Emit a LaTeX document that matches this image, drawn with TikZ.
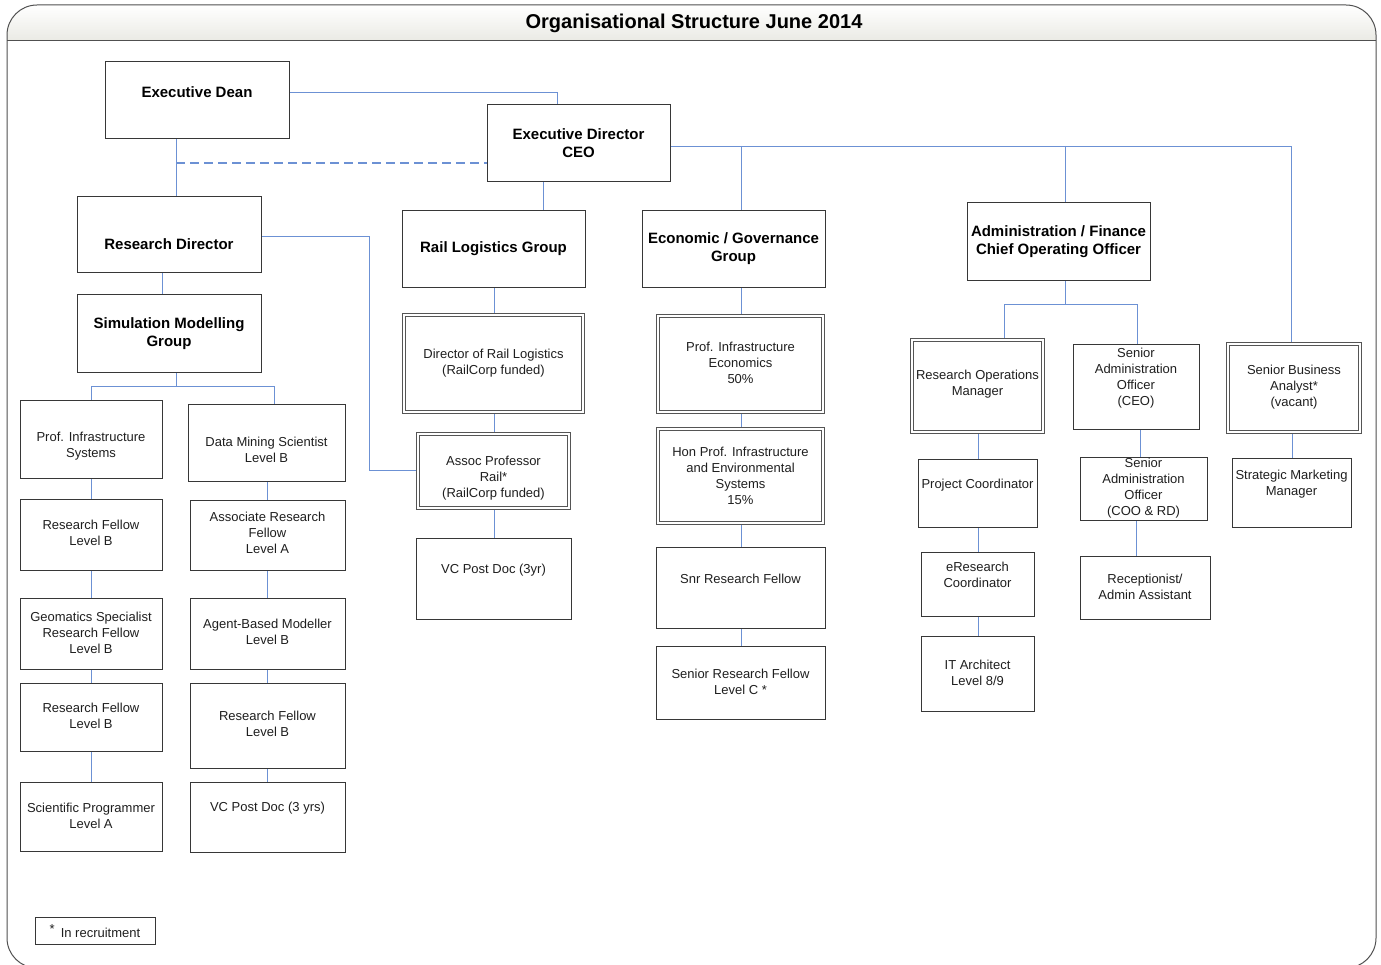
\documentclass[tikz,border=0pt]{standalone}
\usepackage{fontspec}
\setmainfont{Liberation Sans}
\usetikzlibrary{calc,backgrounds}
\definecolor{conncol}{RGB}{108,145,212}
\definecolor{boxcol}{RGB}{55,55,55}
\definecolor{framecol}{RGB}{80,80,80}
\definecolor{bandcol}{RGB}{234,234,228}
\tikzset{
 box/.style={draw=boxcol, line width=0.8pt, fill=white, inner sep=0pt, outer sep=0pt},
 dbox/.style={draw=boxcol!85, line width=0.7pt, double=white, double distance=2.6pt, fill=white, inner sep=0pt, outer sep=0pt},
 txt/.style={align=center, font=\fontsize{13}{16}\selectfont, inner sep=0pt, text=black!88},
 btxt/.style={align=center, font=\fontsize{15}{18}\selectfont\bfseries, inner sep=0pt, text=black, yshift=-2pt},
 conn/.style={draw=conncol, line width=0.9pt},
}
% #1 box style, #2 text style, #3 name, #4 x1, #5 y1, #6 x2, #7 y2, #8 text y, #9 text
\newcommand\bx[9]{%
  \node[#1, minimum width={(#6-#4)*1pt}, minimum height={(#7-#5)*1pt}] (#3) at ({(#4+#6)/2},{(#5+#7)/2}) {};
  \node[#2] (#3-t) at ({(#4+#6)/2},#8) {#9};
}
\begin{document}
\begin{tikzpicture}[x=1pt,y=-1pt]
\useasboundingbox (0,0) rectangle (1381,965);
\begin{scope}
\clip (0,0) rectangle (1381,965);
\begin{scope}
\clip[rounded corners=30pt] (7,5) rectangle (1376,968);
\shade[top color=white, bottom color=bandcol] (7,5) rectangle (1376,41);
\end{scope}
\draw[framecol, line width=1pt, rounded corners=30pt] (7,5) rectangle (1376,968);
\draw[framecol, line width=1pt] (7,41) -- (1376,41);
\end{scope}
\node[font=\fontsize{20}{24}\selectfont\bfseries, inner sep=0pt] (title) at (694,23.5) {Organisational Structure June 2014};

% top level
\bx{box}{btxt}{dean}{105}{61}{289}{138}{90}{Executive Dean}
\bx{box}{btxt}{edir}{487}{104}{670}{181}{141}{Executive Director\\CEO}
\bx{box}{btxt}{rdir}{77}{196}{261}{272}{242}{Research Director}
\bx{box}{btxt}{sim}{77}{294}{261}{372}{332}{Simulation Modelling\\Group}
\bx{box}{btxt}{rail}{402}{210}{585}{287}{247}{Rail Logistics Group}
\bx{box}{btxt}{econ}{642}{210}{825}{287}{247}{Economic / Governance\\Group}
\bx{box}{btxt}{admin}{967}{202}{1150}{280}{240}{Administration / Finance\\Chief Operating Officer}

% simulation modelling columns
\bx{box}{txt}{pis}{20}{400}{162}{478}{446}{Prof. Infrastructure\\Systems}
\bx{box}{txt}{dms}{188}{404}{345}{481}{450}{Data Mining Scientist\\Level B}
\bx{box}{txt}{rf1}{20}{499}{162}{570}{533}{Research Fellow\\Level B}
\bx{box}{txt}{arf}{190}{500}{345}{570}{533}{Associate Research\\Fellow\\Level A}
\bx{box}{txt}{geo}{20}{598}{162}{669}{633}{Geomatics Specialist\\Research Fellow\\Level B}
\bx{box}{txt}{abm}{190}{598}{345}{669}{632}{Agent-Based Modeller\\Level B}
\bx{box}{txt}{rf2}{20}{683}{162}{751}{716}{Research Fellow\\Level B}
\bx{box}{txt}{rf3}{190}{683}{345}{768}{724}{Research Fellow\\Level B}
\bx{box}{txt}{sp}{20}{782}{162}{851}{816}{Scientific Programmer\\Level A}
\bx{box}{txt}{vc1}{190}{782}{345}{852}{808}{VC Post Doc (3 yrs)}

% rail logistics
\bx{dbox}{txt}{drl}{404}{315}{583}{412}{363}{Director of Rail Logistics\\(RailCorp funded)}
\bx{dbox}{txt}{apr}{418}{434}{569}{508}{478}{Assoc Professor\\Rail*\\(RailCorp funded)}
\bx{box}{txt}{vc2}{416}{538}{571}{619}{570}{VC Post Doc (3yr)}

% economic / governance
\bx{dbox}{txt}{pie}{658}{316}{823}{412}{363}{Prof. Infrastructure\\Economics\\50\%}
\bx{dbox}{txt}{hon}{658}{429}{823}{523}{476}{Hon Prof. Infrastructure\\and Environmental\\Systems\\15\%}
\bx{box}{txt}{snr}{656}{547}{825}{628}{579}{Snr Research Fellow}
\bx{box}{txt}{src}{656}{646}{825}{719}{682}{Senior Research Fellow\\Level C *}

% administration
\bx{dbox}{txt}{rom}{912}{340}{1043}{432}{384}{Research Operations\\Manager}
\bx{box}{txt}{sao1}{1073}{344}{1199}{429}{378}{Senior\\Administration\\Officer\\(CEO)}
\bx{dbox}{txt}{sba}{1228}{344}{1360}{432}{387}{Senior Business\\Analyst*\\(vacant)}
\bx{box}{txt}{pc}{918}{459}{1037}{527}{485}{Project Coordinator}
\bx{box}{txt}{sao2}{1080}{457}{1207}{520}{488}{Senior\\Administration\\Officer\\(COO \& RD)}
\bx{box}{txt}{smm}{1232}{458}{1351}{527}{484}{Strategic Marketing\\Manager}
\bx{box}{txt}{er}{921}{552}{1034}{616}{575}{eResearch\\Coordinator}
\bx{box}{txt}{rec}{1080}{556}{1210}{619}{587}{Receptionist/\\Admin Assistant}
\bx{box}{txt}{ita}{921}{636}{1034}{711}{673}{IT Architect\\Level 8/9}

% legend
\bx{box}{txt}{leg}{35}{917}{155}{944}{931}{\raisebox{4pt}{*}\hspace{6pt}In recruitment}

\begin{pgfonlayer}{background}
\draw[conn] (dean.east |- 0,92) -| (557,0 |- edir.north);
\coordinate (dj) at (176,163);
\draw[conn] (dean.south -| dj) -- (rdir.north -| dj);
\draw[conn, line width=1.1pt, dash pattern=on 9pt off 5pt] (dj) -- (edir.west |- dj);
\draw[conn] (edir.south -| 543,0) -- (rail.north -| 543,0);
\coordinate (bus) at (1291,146);
\coordinate (b-econ) at (741,146);
\coordinate (b-admin) at (1065,146);
\draw[conn] (edir.east |- bus) -- (bus) -- (sba.north -| bus);
\draw[conn] (b-econ) -- (econ.north -| b-econ);
\draw[conn] (b-admin) -- (admin.north -| b-admin);
\draw[conn] (rdir.east |- 0,236) -| (369,470) -- (apr.west |- 0,470);
\draw[conn] (rdir.south -| 162,0) -- (sim.north -| 162,0);
\coordinate (sj) at (176,386);
\draw[conn] (sim.south -| sj) -- (sj);
\draw[conn] (pis.north -| 91,0) |- (274,386) -- (dms.north -| 274,0);
\foreach \a/\b in {pis/rf1, rf1/geo, geo/rf2, rf2/sp}
  \draw[conn] (\a.south -| 91,0) -- (\b.north -| 91,0);
\foreach \a/\b in {dms/arf, arf/abm, abm/rf3, rf3/vc1}
  \draw[conn] (\a.south -| 267,0) -- (\b.north -| 267,0);
\foreach \a/\b in {rail/drl, drl/apr, apr/vc2}
  \draw[conn] (\a.south -| 494,0) -- (\b.north -| 494,0);
\foreach \a/\b in {econ/pie, pie/hon, hon/snr, snr/src}
  \draw[conn] (\a.south -| 741,0) -- (\b.north -| 741,0);
\coordinate (aj) at (1065,304);
\draw[conn] (admin.south -| aj) -- (aj);
\draw[conn] (rom.north -| 1004,0) |- (1137,304) -- (sao1.north -| 1137,0);
\foreach \a/\b in {rom/pc, pc/er, er/ita}
  \draw[conn] (\a.south -| 978,0) -- (\b.north -| 978,0);
\draw[conn] (sao1.south -| 1140,0) -- (sao2.north -| 1140,0);
\draw[conn] (sao2.south -| 1136,0) -- (rec.north -| 1136,0);
\draw[conn] (sba.south -| 1292,0) -- (smm.north -| 1292,0);
\end{pgfonlayer}
\end{tikzpicture}
\end{document}
